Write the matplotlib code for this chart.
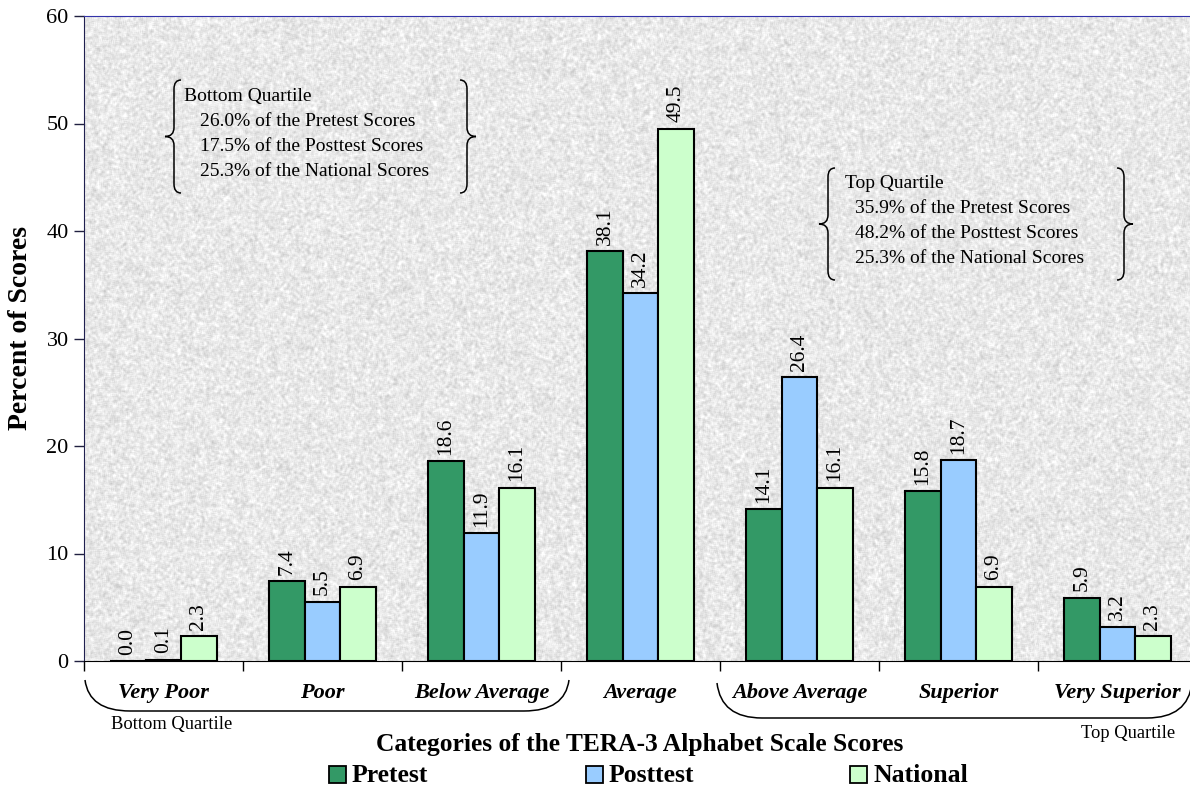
import numpy as np
import matplotlib
matplotlib.use("Agg")
import matplotlib.pyplot as plt
from matplotlib.path import Path
from matplotlib.patches import PathPatch, Rectangle

plt.rcParams['font.family'] = ['Liberation Serif', 'DejaVu Serif']

# TERA-3 alphabet scale categories and percent of scores
categories = ['Very Poor', 'Poor', 'Below Average', 'Average',
              'Above Average', 'Superior', 'Very Superior']
pretest = [0.0, 7.4, 18.6, 38.1, 14.1, 15.8, 5.9]
posttest = [0.1, 5.5, 11.9, 34.2, 26.4, 18.7, 3.2]
national = [2.3, 6.9, 16.1, 49.5, 16.1, 6.9, 2.3]
series_names = ['Pretest', 'Posttest', 'National']
series_colors = ['#339966', '#99ccff', '#ccffcc']

bottom_note = ['Bottom Quartile',
               '26.0% of the Pretest Scores',
               '17.5% of the Posttest Scores',
               '25.3% of the National Scores']
top_note = ['Top Quartile',
            '35.9% of the Pretest Scores',
            '48.2% of the Posttest Scores',
            '25.3% of the National Scores']

W, H = 1190, 789
fig = plt.figure(figsize=(W / 100, H / 100), dpi=100)
ax = fig.add_axes([84 / W, (H - 661) / H, (1197 - 84) / W, (661 - 16) / H])

# granite-like backdrop
rng = np.random.default_rng(7)
tex = rng.random((645, 1113))
sm = sum(np.roll(np.roll(tex, i, 0), j, 1) for i in (-1, 0, 1) for j in (-1, 0, 1)) / 9
sm = (sm - sm.mean()) / sm.std()
ax.imshow(0.91 + 0.033 * sm, cmap='gray', vmin=0, vmax=1, aspect='auto',
          extent=(-0.5, 6.5, 0, 60), zorder=0, interpolation='bilinear')

x = np.arange(len(categories))
w = 0.223
for k, (vals, col) in enumerate(zip([pretest, posttest, national], series_colors)):
    xs = x + (k - 1) * w
    ax.bar(xs, vals, width=w, color=col, edgecolor='black', linewidth=1.5, zorder=2)
    for xi, v in zip(xs, vals):
        ax.text(xi, v + 0.6, f'{v:.1f}', rotation=90, ha='center', va='bottom',
                fontsize=15.5, zorder=3)

ax.set_xlim(-0.5, 6.5)
ax.set_ylim(0, 60)
ax.set_yticks(range(0, 61, 10))
ax.tick_params(axis='y', labelsize=16, length=7, width=1, color='#202040', pad=4)
ax.set_xticks(np.arange(-0.5, 7, 1))
ax.set_xticklabels([])
ax.tick_params(axis='x', length=7, width=1, direction='out')
ax.spines['top'].set_color('#3333aa')
ax.spines['left'].set_color('#202050')
ax.spines['right'].set_visible(False)
ax.spines['bottom'].set_color('black')

# overlay in pixel coordinates for labels, braces and legend
ov = fig.add_axes([0, 0, 1, 1], zorder=5)
ov.set_xlim(0, W)
ov.set_ylim(H, 0)
ov.axis('off')
ov.patch.set_alpha(0)

ov.text(21, 328, 'Percent of Scores', rotation=90, ha='center', va='center',
        fontsize=20, fontweight='bold')

for i, name in enumerate(categories):
    px = 84 + (i + 0.5) * 159
    ov.text(px, 693, name, ha='center', va='center', fontsize=16,
            fontweight='bold', fontstyle='italic')

ov.text(640, 744, 'Categories of the TERA-3 Alphabet Scale Scores', ha='center',
        va='center', fontsize=18.4, fontweight='bold')


def bracket(x0, x1, ytop, ybot):
    verts = [(x0, ytop), (x0 + 4, ybot), (x0 + 45, ybot), (x1 - 45, ybot),
             (x1 - 4, ybot), (x1, ytop)]
    codes = [Path.MOVETO, Path.CURVE3, Path.CURVE3, Path.LINETO,
             Path.CURVE3, Path.CURVE3]
    ov.add_patch(PathPatch(Path(verts, codes), fill=False, lw=1.1, color='black'))


def curly(xb, y0, y1, d):
    # d = -1 opens right ("{"), d = +1 opens left ("}")
    ym = (y0 + y1) / 2
    verts = [(xb - 7 * d, y0), (xb, y0), (xb, y0 + 9), (xb, ym - 9),
             (xb, ym), (xb + 9 * d, ym), (xb, ym), (xb, ym + 9),
             (xb, y1 - 9), (xb, y1), (xb - 7 * d, y1)]
    codes = [Path.MOVETO, Path.CURVE3, Path.CURVE3, Path.LINETO,
             Path.CURVE3, Path.CURVE3, Path.CURVE3, Path.CURVE3,
             Path.LINETO, Path.CURVE3, Path.CURVE3]
    ov.add_patch(PathPatch(Path(verts, codes), fill=False, lw=1.1, color='black'))


bracket(85, 569, 680, 711)
bracket(717, 1192, 683, 718)
ov.text(172, 725, 'Bottom Quartile', ha='center', va='center', fontsize=13.3)
ov.text(1128, 734, 'Top Quartile', ha='center', va='center', fontsize=13.3)

curly(174, 80, 193, -1)
curly(467, 80, 193, 1)
curly(828, 168, 280, -1)
curly(1124, 168, 280, 1)
for j, line in enumerate(bottom_note):
    ov.text(184 if j == 0 else 200, 96 + j * 25.3, line, ha='left', va='center',
            fontsize=14)
for j, line in enumerate(top_note):
    ov.text(845 if j == 0 else 855, 183 + j * 25.3, line, ha='left', va='center',
            fontsize=14)

# legend row
for lx, name, col in zip([329, 586, 850], series_names, series_colors):
    ov.add_patch(Rectangle((lx, 766), 17, 17, facecolor=col, edgecolor='black',
                           lw=1.3))
    ov.text(lx + 23, 775, name, ha='left', va='center', fontsize=18.5,
            fontweight='bold')

fig.savefig('out.png', dpi=100)
